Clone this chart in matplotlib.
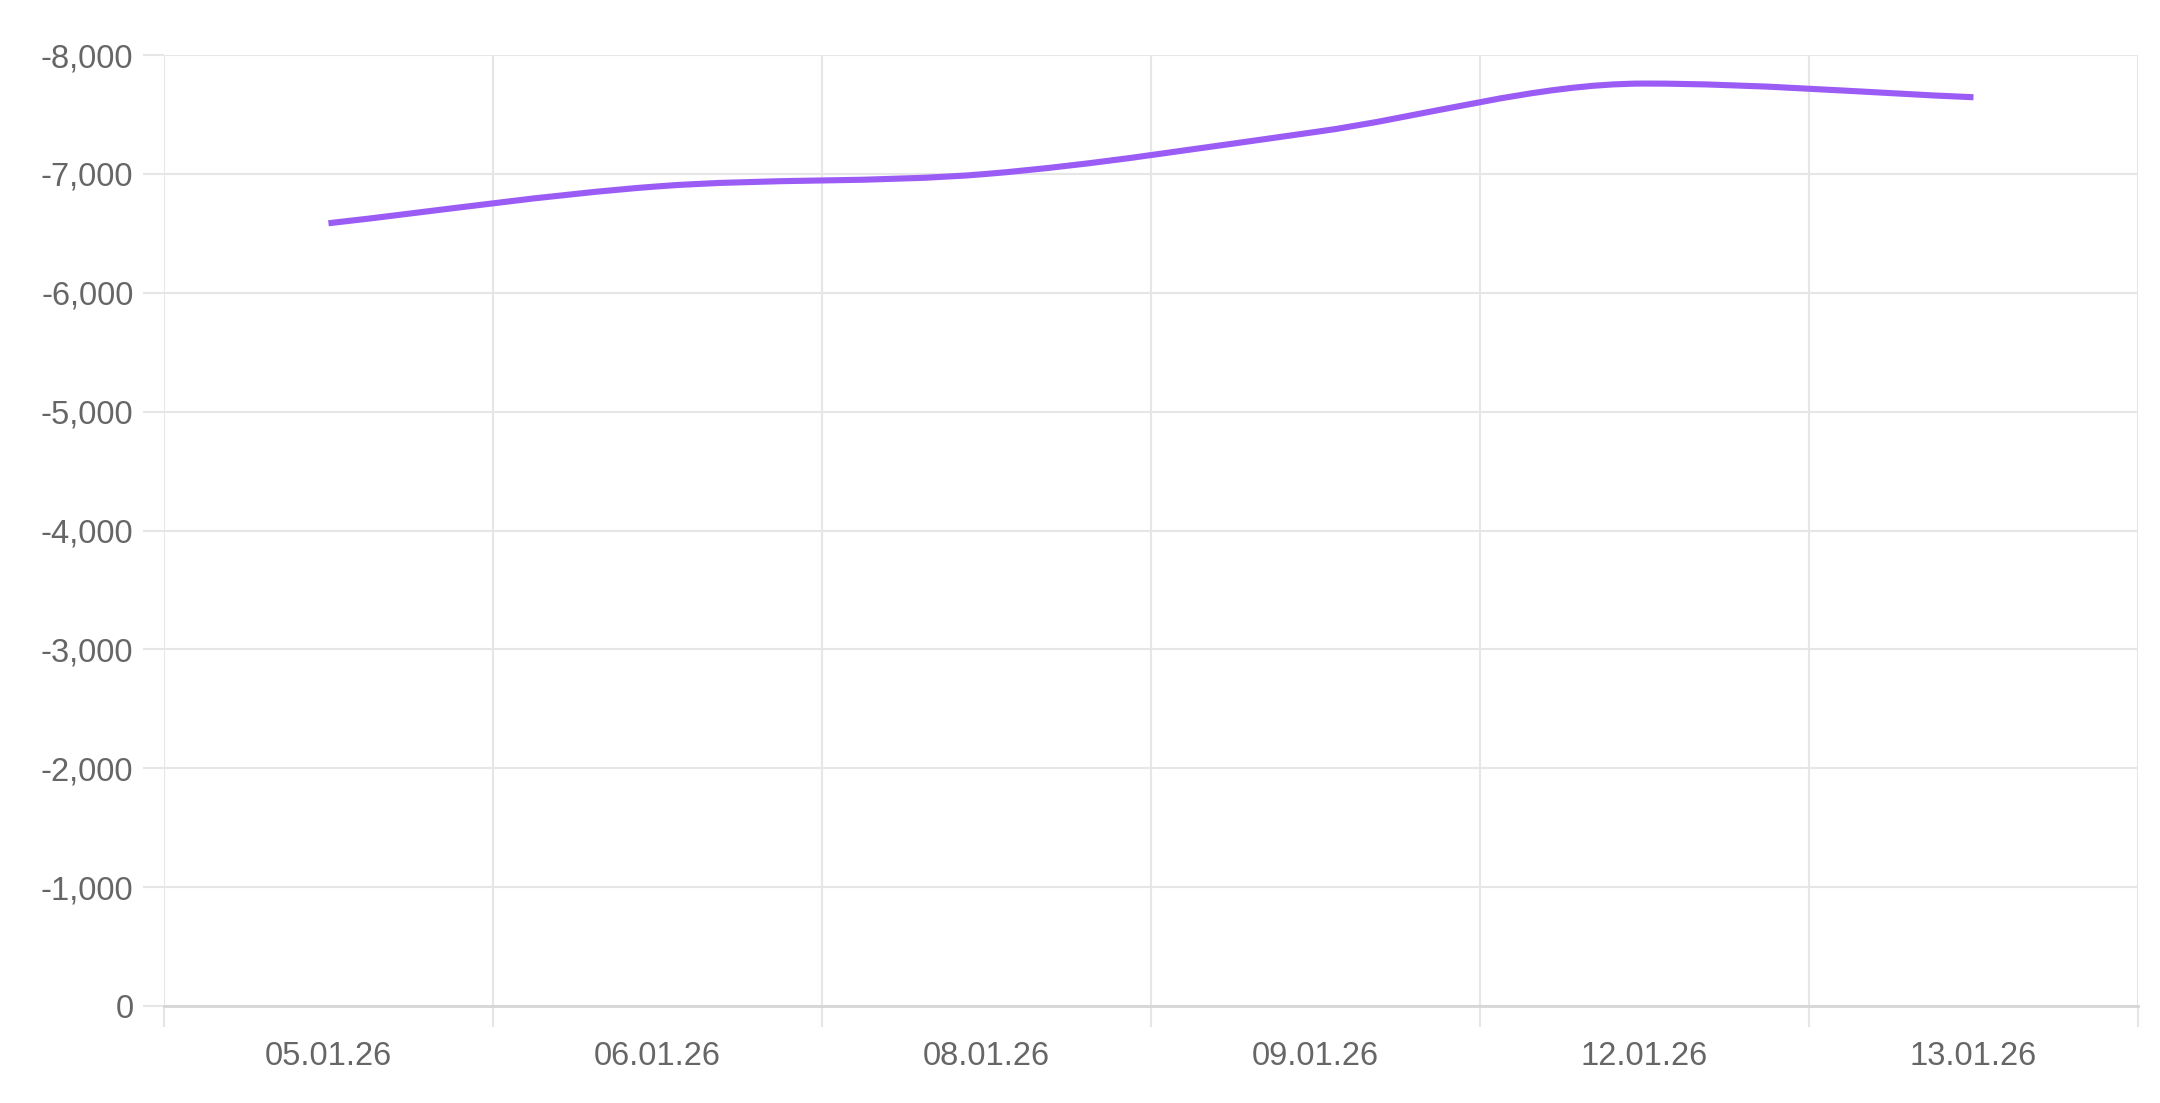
import matplotlib
matplotlib.use("Agg")
import matplotlib.pyplot as plt
from matplotlib.path import Path
from matplotlib.patches import PathPatch
from matplotlib.ticker import FuncFormatter, MultipleLocator
import numpy as np

plt.rcParams.update({
    "font.family": ["Liberation Sans", "DejaVu Sans"],
    "font.size": 23.5,
})

dates = ["05.01.26", "06.01.26", "08.01.26", "09.01.26", "12.01.26", "13.01.26"]
values = [-6585, -6895, -7000, -7353, -7760, -7645]

LINE = "#9b5cf6"
GRID = "#e6e6e6"
TEXT = "#666666"


def monotone_path(xs, ys):
    """monotone cubic (Fritsch-Carlson) as bezier segments, like chart.js 'monotone'."""
    xs = np.asarray(xs, float)
    ys = np.asarray(ys, float)
    n = len(xs)
    delta = np.diff(ys) / np.diff(xs)
    m = np.zeros(n)
    m[0], m[-1] = delta[0], delta[-1]
    for i in range(1, n - 1):
        if delta[i - 1] * delta[i] > 0:
            m[i] = (delta[i - 1] + delta[i]) / 2
    for i in range(n - 1):
        if abs(delta[i]) < 1e-9:
            m[i] = m[i + 1] = 0
            continue
        a, b = m[i] / delta[i], m[i + 1] / delta[i]
        tau2 = a * a + b * b
        if tau2 > 9:
            tau = 3 / np.sqrt(tau2)
            m[i] = a * tau * delta[i]
            m[i + 1] = b * tau * delta[i]
    verts = [(xs[0], ys[0])]
    codes = [Path.MOVETO]
    for i in range(n - 1):
        dx = (xs[i + 1] - xs[i]) / 3
        verts += [(xs[i] + dx, ys[i] + m[i] * dx),
                  (xs[i + 1] - dx, ys[i + 1] - m[i + 1] * dx),
                  (xs[i + 1], ys[i + 1])]
        codes += [Path.CURVE4] * 3
    return Path(verts, codes)


fig = plt.figure(figsize=(21.6, 11.03), dpi=100)
ax = fig.add_axes([0.0759, 0.0879, 0.9139, 0.8622])

x = np.arange(len(dates))
ax.set_xlim(-0.5, len(dates) - 0.5)
ax.set_ylim(0, -8000)

# category boundaries carry the grid, labels sit in the middle of each band
ax.set_xticks(np.arange(-0.5, len(dates)))
ax.set_xticklabels([""] * (len(dates) + 1))
ax.set_xticks(x, minor=True)
ax.set_xticklabels(dates, minor=True)
ax.tick_params(axis="x", which="minor", length=0, pad=25, labelcolor=TEXT)
ax.tick_params(axis="x", which="major", length=15, color=GRID, width=1.5)

ax.yaxis.set_major_locator(MultipleLocator(1000))
ax.yaxis.set_major_formatter(FuncFormatter(lambda v, _: f"{v:,.0f}"))
ax.tick_params(axis="y", length=15, color=GRID, width=1.5, pad=7, labelcolor=TEXT)

ax.grid(True, which="major", color=GRID, linewidth=1.5)
for s in ("top", "right", "left"):
    ax.spines[s].set_visible(False)
ax.spines["bottom"].set_color("#d6d6d6")
ax.spines["bottom"].set_linewidth(2)

ax.add_patch(PathPatch(monotone_path(x, values), fill=False, edgecolor=LINE,
                       linewidth=4.4, capstyle="butt", zorder=3))

fig.savefig("out.png", dpi=100, facecolor="white")
